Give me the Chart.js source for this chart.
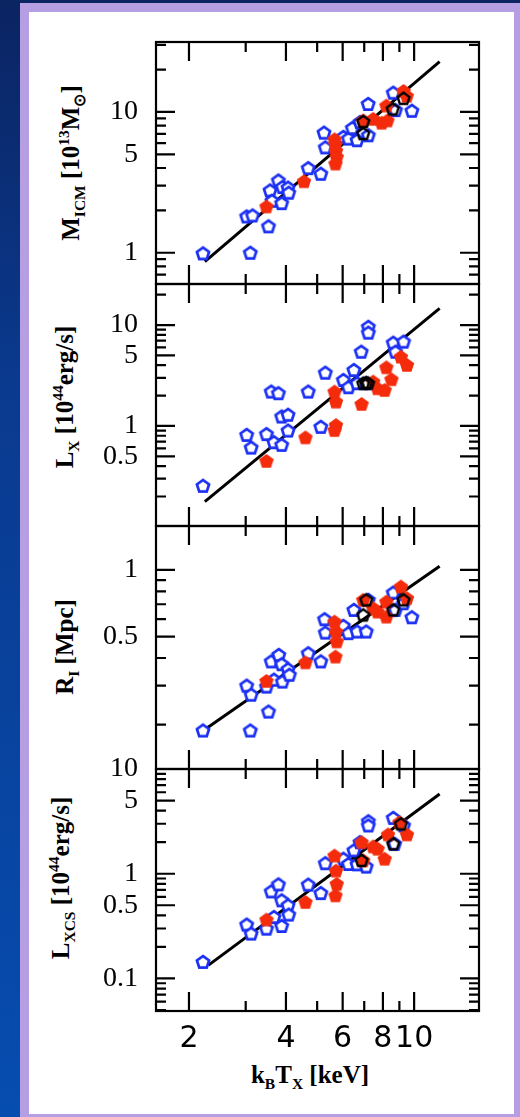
<!DOCTYPE html>
<html>
<head>
<meta charset="utf-8">
<script src="https://cdn.jsdelivr.net/npm/chart.js@4.4.1/dist/chart.umd.min.js"></script>
<style>
  html, body { margin: 0; padding: 0; }
  body {
    width: 520px; height: 1117px; overflow: hidden; position: relative;
    background: linear-gradient(180deg, #0b2462 0%, #0a3a8f 35%, #064db0 100%);
  }
  #frame {
    position: absolute; left: 20px; top: 3px; right: -3px; bottom: -6px;
    box-sizing: border-box; border: 9px solid #b59ee2; background: #fff;
  }
  canvas { position: absolute; left: 0; top: 0; }
  .title {
    position: absolute; white-space: nowrap; line-height: 1; color: #000;
    font: bold 25px 'Liberation Serif', serif;
    transform: translate(-50%, -50%) rotate(-90deg);
  }
  .title.x { transform: translate(-50%, -50%); }
  .title sub, .title sup { font-size: 62%; }
</style>
</head>
<body>
<div id="frame"></div>
<div class="title" style="left:72px; top:163px">M<sub>ICM</sub> [10<sup>13</sup>M<sub>⊙</sub>]</div>
<div class="title" style="left:66px; top:397px">L<sub>X</sub> [10<sup>44</sup>erg/s]</div>
<div class="title" style="left:67px; top:647px">R<sub>I</sub> [Mpc]</div>
<div class="title" style="left:62px; top:878px">L<sub>XCS</sub> [10<sup>44</sup>erg/s]</div>
<div class="title x" style="left:310px; top:1077px">k<sub>B</sub>T<sub>X</sub> [keV]</div>
<script>
// x axis: temperature in keV (shared by the four panels)
const xMin = 1.58, xMax = 15.9;
const xLabels = [2, 4, 6, 8, 10];

// y tick labels per panel
const yLabelsM = [1, 5, 10];
const yLabelsL = [0.5, 1, 5, 10];
const yLabelsR = [0.5, 1];
const yLabelsC = [0.1, 0.5, 1, 5, 10];

// M_ICM [1e13 Msun]
const blueM = [[2.21,0.99],[3.02,1.81],[3.15,1.84],[3.10,1.0],[3.53,1.54],[3.57,2.77],[3.79,3.26],[3.62,2.34],
  [3.88,2.25],[3.90,2.93],[4.06,2.90],[4.08,2.67],[4.69,3.99],[5.13,3.64],[5.25,7.13],[5.30,5.6],[6.03,6.65],
  [6.25,6.47],[6.43,7.69],[6.65,6.3],[6.79,8.47],[7.21,6.83],[7.20,11.4],[8.61,13.7],[8.75,10.3],[9.84,10.2]];
const redM = [[3.48,2.13],[4.55,3.22],[5.66,6.4],[5.70,5.9],[5.72,5.3],[5.75,4.8],[5.70,4.3],[6.95,8.7],
  [7.46,8.93],[7.93,8.38],[8.26,8.7],[8.20,11.1],[9.27,14.1],[9.49,13.0]];
const blackM = [[6.95,8.55],[6.95,7.02],[8.58,10.5],[9.27,12.5]];
const fitM = [[2.24,0.865],[12.0,22.8]];

// L_X [1e44 erg/s]
const blueL = [[2.21,0.255],[3.02,0.815],[3.12,0.61],[3.48,0.83],[3.60,2.19],[3.79,2.11],[3.67,0.69],[3.88,0.65],
  [3.88,1.24],[4.06,1.29],[4.06,0.90],[4.69,2.19],[5.13,0.98],[5.30,3.37],[6.03,2.85],[6.25,2.42],[6.50,3.58],
  [6.65,2.65],[6.85,5.44],[7.21,9.6],[7.21,8.4],[7.10,2.65],[8.61,6.68],[8.75,5.44],[9.27,6.84]];
const redL = [[3.48,0.45],[4.60,0.77],[5.66,2.19],[5.72,1.74],[5.72,1.02],[5.66,0.91],[6.87,1.65],[7.46,2.75],
  [7.70,2.36],[8.10,2.27],[8.20,3.81],[8.50,2.90],[9.10,4.85],[9.50,4.02]];
const blackL = [[6.95,2.65],[7.10,2.68],[7.20,2.65]];
const fitL = [[2.24,0.178],[12.0,14.6]];

// R_I [Mpc]
const blueR = [[2.21,0.188],[3.02,0.30],[3.12,0.273],[3.10,0.188],[3.53,0.229],[3.60,0.386],[3.80,0.413],
  [3.48,0.297],[3.67,0.319],[3.88,0.375],[3.90,0.313],[4.06,0.356],[4.10,0.336],[4.69,0.42],[5.13,0.386],
  [5.27,0.599],[5.30,0.521],[6.03,0.559],[6.25,0.518],[6.50,0.66],[6.65,0.527],[7.10,0.527],[7.21,0.732],
  [8.61,0.79],[8.75,0.66],[9.27,0.707],[9.84,0.611]];
const redR = [[3.48,0.315],[4.60,0.382],[5.66,0.584],[5.72,0.527],[5.75,0.475],[5.70,0.406],[6.95,0.732],
  [7.46,0.672],[7.70,0.648],[8.20,0.719],[8.20,0.615],[9.10,0.841],[9.50,0.745]];
const blackR = [[6.95,0.626],[7.10,0.732],[8.61,0.66],[9.27,0.732]];
const fitR = [[2.24,0.19],[12.0,1.04]];

// L_XCS [1e44 erg/s]
const blueC = [[2.21,0.144],[3.02,0.327],[3.12,0.268],[3.48,0.299],[3.60,0.678],[3.79,0.791],[3.67,0.386],
  [3.88,0.317],[3.88,0.557],[4.06,0.499],[4.08,0.407],[4.69,0.786],[5.13,0.653],[5.30,1.26],[6.03,1.39],
  [6.25,1.24],[6.50,1.67],[6.65,1.23],[6.79,2.0],[7.21,3.17],[7.21,2.89],[7.10,1.17],[8.61,3.41],[8.70,1.93],[9.27,2.89]];
const redC = [[3.48,0.365],[4.60,0.537],[5.66,1.49],[5.72,1.07],[5.75,0.80],[5.70,0.621],[6.87,2.0],[6.95,1.34],
  [7.46,1.82],[7.70,1.73],[8.10,1.39],[8.30,2.37],[9.00,3.1],[9.50,2.37]];
const blackC = [[6.87,1.34],[8.61,1.93],[9.10,2.99]];
const fitC = [[2.30,0.134],[12.0,5.78]];

const panels = [
  { top: 42, bottom: 284, yMin: 0.637, yMax: 31.4, labels: yLabelsM, blue: blueM, red: redM, black: blackM, fit: fitM },
  { top: 284, bottom: 526, yMin: 0.102, yMax: 25.5, labels: yLabelsL, blue: blueL, red: redL, black: blackL, fit: fitL },
  { top: 526, bottom: 769, yMin: 0.126, yMax: 1.58, labels: yLabelsR, blue: blueR, red: redR, black: blackR, fit: fitR },
  { top: 769, bottom: 1011, yMin: 0.0489, yMax: 10, labels: yLabelsC, blue: blueC, red: redC, black: blackC, fit: fitC }
];

/**
 * pentagon marker drawn on a small canvas, used as pointStyle
 */
function pentagon(fill, stroke, r, lw) {
  const c = document.createElement('canvas');
  const s = Math.ceil(2 * r + lw + 4);
  c.width = c.height = s;
  const g = c.getContext('2d');
  g.beginPath();
  for (let i = 0; i < 5; i++) {
    const a = -Math.PI / 2 + i * 2 * Math.PI / 5;
    g.lineTo(s / 2 + r * Math.cos(a), s / 2 + 0.5 + r * Math.sin(a));
  }
  g.closePath();
  if (fill) { g.fillStyle = fill; g.fill(); }
  if (stroke) { g.lineWidth = lw; g.strokeStyle = stroke; g.stroke(); }
  return c;
}

const blueMark = pentagon('#ffffff', '#1b30f4', 6.4, 2.7);
const redMark = pentagon('#f42c0c', null, 7.6, 0);
const blackMark = pentagon(null, '#000000', 6.2, 2.4);

const toXY = arr => arr.map(([x, y]) => ({ x, y }));

// box around each panel + inward ticks on all four sides
const frameTicks = {
  id: 'frameTicks',
  afterDraw(chart) {
    const { ctx, chartArea: a, scales: { x, y } } = chart;
    const majors = y.ticks.map(t => t.value);
    ctx.save();
    ctx.strokeStyle = '#000';
    ctx.lineWidth = 2.2;
    ctx.strokeRect(a.left, a.top, a.right - a.left, a.bottom - a.top);
    ctx.beginPath();
    for (let v = 2; v <= 10; v++) {
      const len = v % 2 === 0 ? 19 : 10;
      const px = x.getPixelForValue(v);
      ctx.moveTo(px, a.top); ctx.lineTo(px, a.top + len);
      ctx.moveTo(px, a.bottom); ctx.lineTo(px, a.bottom - len);
    }
    const lo = Math.floor(Math.log10(y.min)), hi = Math.ceil(Math.log10(y.max));
    for (let k = lo; k <= hi; k++) {
      for (let m = 1; m <= 9; m++) {
        const v = m * Math.pow(10, k);
        if (v < y.min * 0.999 || v > y.max * 1.001) continue;
        const len = majors.some(l => Math.abs(l - v) < 1e-6 * v) ? 19 : 10;
        const py = y.getPixelForValue(v);
        ctx.moveTo(a.left, py); ctx.lineTo(a.left + len, py);
        ctx.moveTo(a.right, py); ctx.lineTo(a.right - len, py);
      }
    }
    ctx.stroke();
    ctx.restore();
  }
};

panels.forEach((p, i) => {
  const last = i === panels.length - 1;
  const canvas = document.createElement('canvas');
  canvas.width = 520;
  canvas.height = 1117;
  document.body.appendChild(canvas);

  new Chart(canvas, {
    type: 'scatter',
    data: {
      datasets: [
        { data: toXY(p.fit), showLine: true, borderColor: '#000', borderWidth: 3, pointRadius: 0, order: 4 },
        { data: toXY(p.blue), pointStyle: blueMark, pointRadius: 6, order: 3 },
        { data: toXY(p.red), pointStyle: redMark, pointRadius: 6, order: 2 },
        { data: toXY(p.black), pointStyle: blackMark, pointRadius: 6, order: 1 }
      ]
    },
    options: {
      responsive: false,
      animation: false,
      devicePixelRatio: 1,
      events: [],
      layout: {
        padding: { left: 36, right: 41, top: p.top, bottom: last ? 1117 - p.bottom - 60 : 1117 - p.bottom }
      },
      plugins: { legend: { display: false }, tooltip: { enabled: false } },
      scales: {
        x: {
          type: 'logarithmic', min: xMin, max: xMax, display: last,
          grid: { display: false, drawTicks: false }, border: { display: false },
          afterBuildTicks: s => { s.ticks = xLabels.map(v => ({ value: v })); },
          // only the bottom panel keeps room for the x labels
          afterFit: s => { s.height = last ? 60 : 0; },
          ticks: {
            autoSkip: false, maxRotation: 0, padding: 10, color: '#000',
            font: { family: 'DejaVu Sans', size: 30 }, callback: v => String(v)
          }
        },
        y: {
          type: 'logarithmic', min: p.yMin, max: p.yMax,
          grid: { display: false, drawTicks: false }, border: { display: false },
          afterBuildTicks: s => { s.ticks = p.labels.map(v => ({ value: v })); },
          afterFit: s => { s.width = 120; },
          ticks: {
            autoSkip: false, padding: 18, color: '#000',
            font: { family: 'Liberation Serif', size: 28 }, callback: v => String(v)
          }
        }
      }
    },
    plugins: [frameTicks]
  });
});
</script>
</body>
</html>
